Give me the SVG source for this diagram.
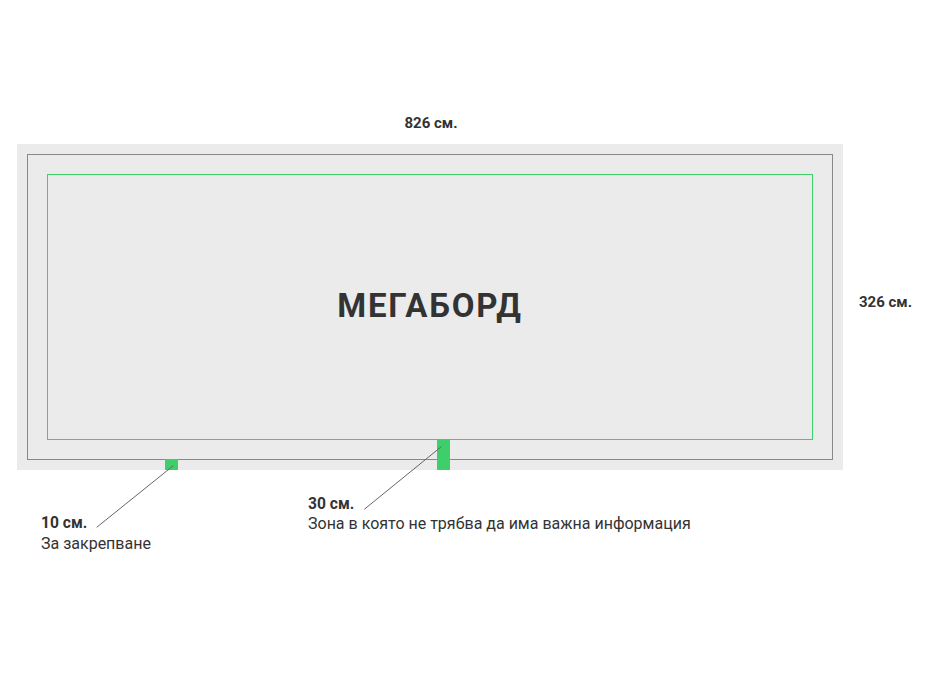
<svg xmlns="http://www.w3.org/2000/svg" width="930" height="678" viewBox="0 0 930 678">
<style>
text{font-family:Roboto,"Liberation Sans",sans-serif;fill:#333333}
.b{font-weight:bold}
.dim{font-size:15px;font-weight:bold}
.dim2{font-size:15.6px;font-weight:bold}
.lbl{font-size:16px}
.lead{stroke:#666666;stroke-width:1;fill:none}
.zone{fill:#3ecf6b}
</style>
<rect width="930" height="678" fill="#ffffff"/>
<g id="board">
<rect x="17" y="144" width="826" height="326" fill="#ebebeb"/>
<rect x="27.5" y="154.5" width="805" height="305" fill="none" stroke="#888888" stroke-width="1"/>
<rect x="47.5" y="174.5" width="765" height="265" fill="none" stroke="#3ecf6b" stroke-width="1"/>
<text x="430" y="317" font-size="33" class="b" text-anchor="middle" letter-spacing="1.8">МЕГАБОРД</text>
</g>
<g id="width-label"><text x="431" y="128" class="dim" text-anchor="middle">826 см.</text></g>
<g id="height-label"><text x="859" y="307" class="dim" font-size="15.4">326 см.</text></g>
<g id="fix-zone"><rect x="165" y="459" width="13" height="11" class="zone"/></g>
<g id="safe-zone"><rect x="437" y="439" width="13" height="31" class="zone"/></g>
<g id="fix-label">
<text x="41" y="528" class="dim2">10 см.</text>
<text x="41" y="549" class="lbl">За закрепване</text>
</g>
<g id="safe-label">
<text x="308" y="509" class="dim2">30 см.</text>
<text x="308" y="529" class="lbl">Зона в която не трябва да има важна информация</text>
</g>
<g id="connectors">
<line x1="173.3" y1="465.7" x2="96.7" y2="527.3" class="lead"/>
<line x1="441.3" y1="446.7" x2="364.3" y2="509.3" class="lead"/>
</g>
</svg>
